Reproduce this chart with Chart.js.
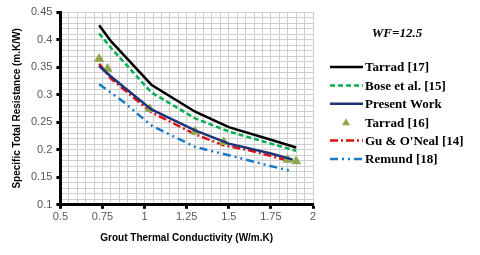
<!DOCTYPE html>
<html>
<head>
<meta charset="utf-8">
<script src="https://cdn.jsdelivr.net/npm/chart.js@4.4.0/dist/chart.umd.min.js"></script>
<style>
  html, body { margin: 0; padding: 0; background: #fff; }
  #wrap { width: 480px; height: 255px; position: relative; }
</style>
</head>
<body>
<div id="wrap"><canvas id="c"></canvas></div>
<script>
const tarrad17X = [0.73, 0.8, 1.04, 1.3, 1.5, 1.75, 1.9];
const tarrad17Y = [0.426, 0.397, 0.318, 0.269, 0.241, 0.218, 0.204];
const boseX = [0.73, 0.8, 1.04, 1.3, 1.5, 1.75, 1.9];
const boseY = [0.411, 0.385, 0.304, 0.257, 0.233, 0.211, 0.198];
const presentX = [0.73, 0.8, 1.04, 1.3, 1.5, 1.75, 1.88];
const presentY = [0.352, 0.333, 0.273, 0.235, 0.211, 0.193, 0.182];
const tarrad16X = [0.73, 0.78, 1.03, 1.3, 1.47, 1.85, 1.9];
const tarrad16Y = [0.365, 0.347, 0.274, 0.233, 0.214, 0.182, 0.179];
const guX = [0.73, 0.8, 1.04, 1.3, 1.47, 1.62, 1.83];
const guY = [0.356, 0.329, 0.268, 0.228, 0.208, 0.199, 0.182];
const remundX = [0.73, 0.87, 1.04, 1.3, 1.5, 1.7, 1.86];
const remundY = [0.319, 0.288, 0.244, 0.205, 0.190, 0.174, 0.162];

const pts = (xs, ys) => xs.map((x, i) => ({ x: x, y: ys[i] }));

const lineDs = (label, xs, ys, color, dash) => ({
  label: label, data: pts(xs, ys), borderColor: color, backgroundColor: color,
  borderWidth: 2.5, borderDash: dash, pointRadius: 0, tension: 0, showLine: true,
});

const datasets = [
  lineDs('Tarrad [17]', tarrad17X, tarrad17Y, '#000000', []),
  lineDs('Bose et al. [15]', boseX, boseY, '#00b050', [5, 3]),
  lineDs('Present Work', presentX, presentY, '#1f3477', []),
  { label: 'Tarrad [16]', data: pts(tarrad16X, tarrad16Y), showLine: false,
    pointStyle: 'triangle', pointRadius: 5, pointBackgroundColor: '#8fa84e',
    pointBorderColor: '#8fa84e', borderColor: '#8fa84e', backgroundColor: '#8fa84e' },
  lineDs("Gu & O'Neal [14]", guX, guY, '#e01010', [8, 3, 2, 3]),
  lineDs('Remund [18]', remundX, remundY, '#1a78c8', [8, 4, 2, 4, 2, 4]),
];

// legend + WF label drawn beside the plot
const sideLegend = {
  id: 'sideLegend',
  afterDraw(chart) {
    const ctx = chart.ctx;
    ctx.save();
    ctx.fillStyle = '#000';
    ctx.font = 'italic bold 13px "Liberation Serif"';
    ctx.textAlign = 'center';
    ctx.textBaseline = 'middle';
    ctx.fillText('WF=12.5', 397, 34);
    ctx.font = 'bold 13px "Liberation Serif"';
    ctx.textAlign = 'left';
    chart.data.datasets.forEach((ds, i) => {
      const y = 67 + i * 18.4;
      if (ds.showLine === false) {
        ctx.fillStyle = ds.pointBackgroundColor;
        ctx.beginPath();
        ctx.moveTo(346, y - 4);
        ctx.lineTo(350, y + 3);
        ctx.lineTo(342, y + 3);
        ctx.closePath();
        ctx.fill();
      } else {
        ctx.strokeStyle = ds.borderColor;
        ctx.lineWidth = ds.borderWidth;
        ctx.setLineDash(ds.borderDash);
        ctx.beginPath();
        ctx.moveTo(330, y);
        ctx.lineTo(363, y);
        ctx.stroke();
        ctx.setLineDash([]);
      }
      ctx.fillStyle = '#000';
      ctx.fillText(ds.label, 365, y + 1);
    });
    ctx.restore();
  }
};

const isMajor = (v, step) => Math.abs(Math.round(v / step) * step - v) < 1e-6;

new Chart(document.getElementById('c'), {
  type: 'scatter',
  data: { datasets: datasets },
  plugins: [sideLegend],
  options: {
    responsive: true,
    maintainAspectRatio: false,
    animation: false,
    layout: { padding: { left: 7, right: 167, top: 12, bottom: 7 } },
    plugins: { legend: { display: false }, tooltip: { enabled: false } },
    scales: {
      x: {
        type: 'linear', min: 0.5, max: 2,
        border: { color: '#000', width: 3 },
        grid: {
          color: '#cfcfcf', lineWidth: 1, tickLength: 4,
          tickColor: (c) => isMajor(c.tick.value, 0.25) ? '#000' : 'rgba(0,0,0,0)',
          tickWidth: (c) => isMajor(c.tick.value, 0.25) ? 3 : 1,
        },
        ticks: {
          stepSize: 0.05, autoSkip: false, maxRotation: 0, maxTicksLimit: 100,
          color: '#595959', font: { family: '"Liberation Sans"', size: 11 }, padding: 2,
          callback: (v) => isMajor(v, 0.25) ? String(Math.round(v * 100) / 100) : '',
        },
        title: { display: true, text: 'Grout Thermal Conductivity (W/m.K)', color: '#000',
          font: { family: '"Liberation Sans"', size: 10, weight: 'bold' }, padding: { top: 6 } },
      },
      y: {
        type: 'linear', min: 0.1, max: 0.45,
        border: { color: '#000', width: 3 },
        grid: {
          color: '#cfcfcf', lineWidth: 1, tickLength: 4,
          tickColor: (c) => isMajor(c.tick.value, 0.05) ? '#000' : 'rgba(0,0,0,0)',
          tickWidth: (c) => isMajor(c.tick.value, 0.05) ? 3 : 1,
        },
        ticks: {
          stepSize: 0.01, autoSkip: false, maxTicksLimit: 100,
          color: '#595959', font: { family: '"Liberation Sans"', size: 11 }, padding: 4,
          callback: (v) => isMajor(v, 0.05) ? String(Math.round(v * 100) / 100) : '',
        },
        title: { display: true, text: 'Specific Total Resistance (m.K/W)', color: '#000',
          font: { family: '"Liberation Sans"', size: 10, weight: 'bold' }, padding: { bottom: 4 } },
      },
    },
  },
});
</script>
</body>
</html>
